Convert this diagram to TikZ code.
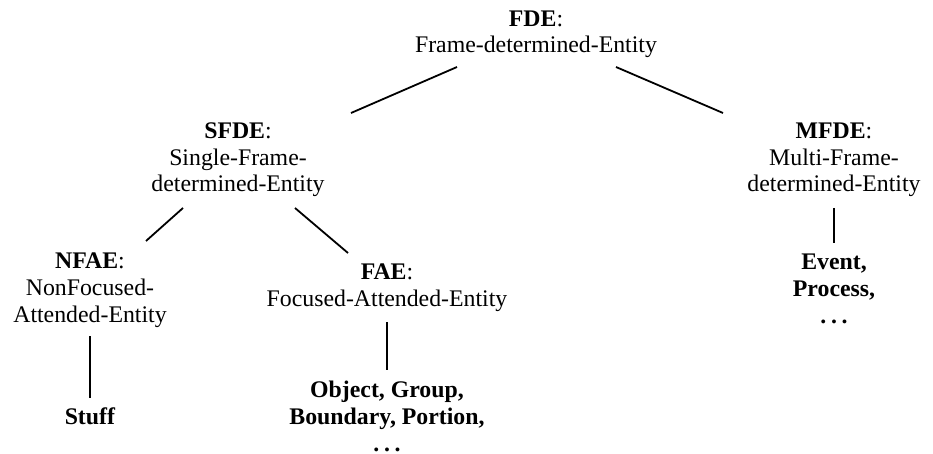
\documentclass[tikz,border=0pt]{standalone}
\usepackage{fontspec}
\setmainfont{Liberation Serif}
\usetikzlibrary{calc}
\tikzset{
  lbl/.style={anchor=base, align=center, inner sep=0pt, font=\fontsize{23.8}{26.8}\selectfont},
  edge/.style={line width=1.8pt, black}
}
\newcommand{\bdots}{\textbf{.\kern0.2em.\kern0.2em.}}
\begin{document}
\begin{tikzpicture}[x=1pt,y=-1pt]
\useasboundingbox (0,0) rectangle (933,454);
% anchor=base is the baseline of the last line
\node[lbl] (fde) at (536,53) {\textbf{FDE}:\\Frame-determined-Entity};
\node[lbl] (sfde) at (238,192) {\textbf{SFDE}:\\Single-Frame-\\determined-Entity};
\node[lbl] (mfde) at (834,192) {\textbf{MFDE}:\\Multi-Frame-\\determined-Entity};
\node[lbl] (nfae) at (90,322) {\textbf{NFAE}:\\NonFocused-\\Attended-Entity};
\node[lbl] (fae) at (387,306) {\textbf{FAE}:\\Focused-Attended-Entity};
\node[lbl] (event) at (834,323) {\textbf{Event,}\\\textbf{Process,}\\\bdots};
\node[lbl] (stuff) at (90,424) {\textbf{Stuff}};
\node[lbl] (obj) at (387,451) {\textbf{Object, Group,}\\\textbf{Boundary, Portion,}\\\bdots};
\draw[edge] ($(fde.base)+(-79,14)$) -- ($(sfde.base)+(113,-79)$);
\draw[edge] ($(fde.base)+(80,14)$) -- ($(mfde.base)+(-111,-79)$);
\draw[edge] ($(sfde.base)+(-55,16)$) -- ($(nfae.base)+(56,-81)$);
\draw[edge] ($(sfde.base)+(57,16)$) -- ($(fae.base)+(-39,-53)$);
\draw[edge] ($(mfde.base)+(0,16)$) -- ($(event.base)+(0,-80)$);
\draw[edge] ($(nfae.base)+(0,14)$) -- ($(stuff.base)+(0,-26)$);
\draw[edge] ($(fae.base)+(0,16)$) -- ($(obj.base)+(0,-81)$);
\end{tikzpicture}
\end{document}
